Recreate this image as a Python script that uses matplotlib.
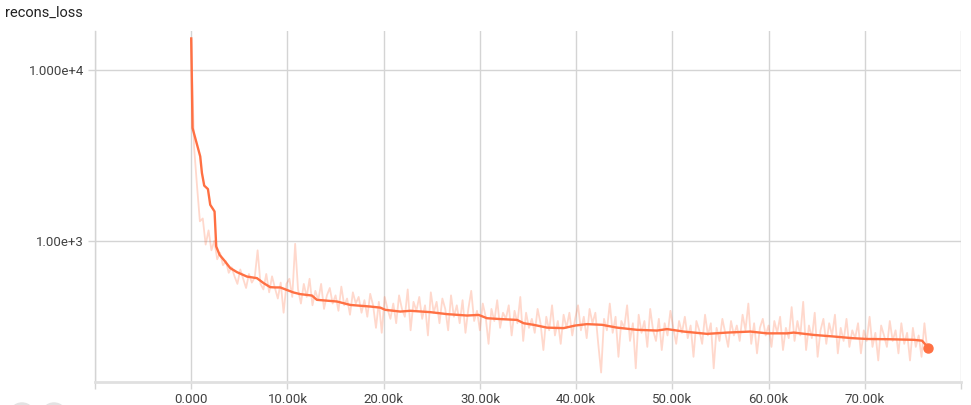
import numpy as np
import matplotlib
matplotlib.use("Agg")
import matplotlib.pyplot as plt
from matplotlib.patches import Circle

plt.rcParams['font.family'] = ['Roboto', 'DejaVu Sans']

# raw loss, logged every 300 steps
log_interval = 300
raw_values = [
    15000, 3500, 2100, 1300, 1350, 950, 1150, 880, 1000, 780,
    850, 720, 760, 650, 700, 620, 560, 680, 600, 530,
    640, 570, 610, 880, 560, 520, 640, 500, 620, 530,
    460, 570, 380, 560, 600, 470, 960, 520, 430, 560,
    470, 600, 420, 510, 450, 560, 400, 480, 530, 430,
    480, 390, 540, 420, 460, 370, 500, 430, 470, 380,
    450, 360, 490, 420, 310, 440, 290, 470, 400, 350,
    430, 330, 480, 400, 360, 520, 300, 440, 390, 470,
    350, 420, 280, 500, 380, 440, 330, 460, 400, 300,
    480, 360, 420, 330, 450, 290, 400, 510, 340, 390,
    300, 430, 360, 250, 400, 340, 450, 310, 380, 350,
    420, 280, 390, 330, 470, 260, 380, 310, 350, 290,
    400, 330, 230, 360, 300, 420, 280, 340, 250, 370,
    310, 380, 280, 350, 420, 300, 360, 270, 400, 330,
    380, 250, 170, 350, 300, 430, 290, 360, 210, 340,
    310, 420, 260, 330, 180, 370, 290, 340, 240, 400,
    300, 260, 350, 230, 330, 280, 390, 310, 250, 340,
    290, 360, 270, 320, 210, 340, 300, 250, 370, 280,
    330, 180, 310, 260, 350, 290, 240, 340, 280, 320,
    260, 370, 300, 430, 250, 330, 220, 310, 350, 280,
    320, 240, 340, 290, 360, 230, 310, 270, 410, 260,
    340, 280, 440, 230, 320, 270, 380, 210, 300, 350,
    250, 330, 280, 370, 220, 310, 260, 350, 240, 300,
    270, 330, 220, 300, 260, 360, 240, 290, 200, 320,
    280, 240, 340, 260, 300, 220, 330, 250, 290, 200,
    310, 240, 280, 210, 330, 230,
]
raw_steps = np.arange(len(raw_values)) * log_interval

# smoothed curve
smooth_steps = [0, 135, 936, 1112, 1351, 1736, 1975, 2425, 2599, 2946,
                3466, 4054, 4750, 5790, 6830, 7520, 8212, 8732, 9250, 10630,
                11330, 12540, 13060, 15140, 16530, 18610, 19650, 20170, 21730, 22770,
                24850, 26580, 28660, 29870, 30740, 32120, 33860, 34550, 35580, 36970,
                38700, 39920, 41130, 42690, 44250, 46330, 48410, 49450, 51180, 53610,
                55690, 58110, 59840, 61920, 62610, 64690, 66770, 68680, 70240, 72660,
                75080, 75950, 76580]
smooth_values = [15200, 4560, 3110, 2490, 2100, 2005, 1623, 1483, 926, 828,
                 764, 693, 656, 618, 605, 566, 536, 534, 534, 499,
                 488, 479, 452, 442, 422, 413, 407, 395, 386, 390,
                 383, 373, 366, 369, 353, 349, 345, 330, 323, 311,
                 309, 320, 326, 323, 311, 302, 299, 305, 295, 286,
                 291, 295, 288, 288, 291, 282, 276, 270, 267, 266,
                 264, 261, 238]

x_ticks = np.arange(-10000, 80001, 10000)
x_labels = ['', '0.000', '10.00k', '20.00k', '30.00k', '40.00k',
            '50.00k', '60.00k', '70.00k', '']
y_ticks = [1e3, 1e4]
y_labels = ['1.00e+3', '1.000e+4']

line_color = '#ff7043'
grid_color = '#d4d4d4'

fig = plt.figure(figsize=(9.71, 4.05), dpi=100)
ax = fig.add_axes([95 / 971, 1 - 382 / 405, 866 / 971, 351 / 405])

ax.plot(raw_steps, raw_values, color=line_color, alpha=0.27, lw=1.3, zorder=2)
ax.plot(smooth_steps, smooth_values, color=line_color, lw=1.7, zorder=3)
ax.plot(smooth_steps[-1], smooth_values[-1], 'o', color=line_color,
        markersize=6.5, zorder=4)

ax.set_yscale('log')
ax.set_xlim(-10000, 80000)
ax.set_ylim(149.7, 16800)

ax.set_xticks(x_ticks)
ax.set_xticklabels(x_labels)
ax.set_yticks(y_ticks)
ax.set_yticklabels(y_labels)
ax.yaxis.set_minor_locator(matplotlib.ticker.NullLocator())
ax.tick_params(axis='both', length=5, width=1, color=grid_color,
               labelsize=9.5, labelcolor='#424242', pad=3)

ax.grid(True, color=grid_color, lw=1)
ax.set_axisbelow(True)
for side in ['top', 'right']:
    ax.spines[side].set_visible(False)
ax.spines['left'].set_color(grid_color)
ax.spines['left'].set_linewidth(1)
ax.spines['bottom'].set_color('#e0e0e0')
ax.spines['bottom'].set_linewidth(2)

fig.text(5 / 971, 1 - 13 / 405, 'recons_loss', fontsize=10.5, color='#212121',
         va='center', ha='left')

# cut-off buttons at the bottom edge
for cx in [22, 54]:
    fig.add_artist(Circle((cx, 405 - 416), 13, transform=None,
                          color='#e3e3e3', clip_on=False))

fig.savefig('out.png', dpi=100)
